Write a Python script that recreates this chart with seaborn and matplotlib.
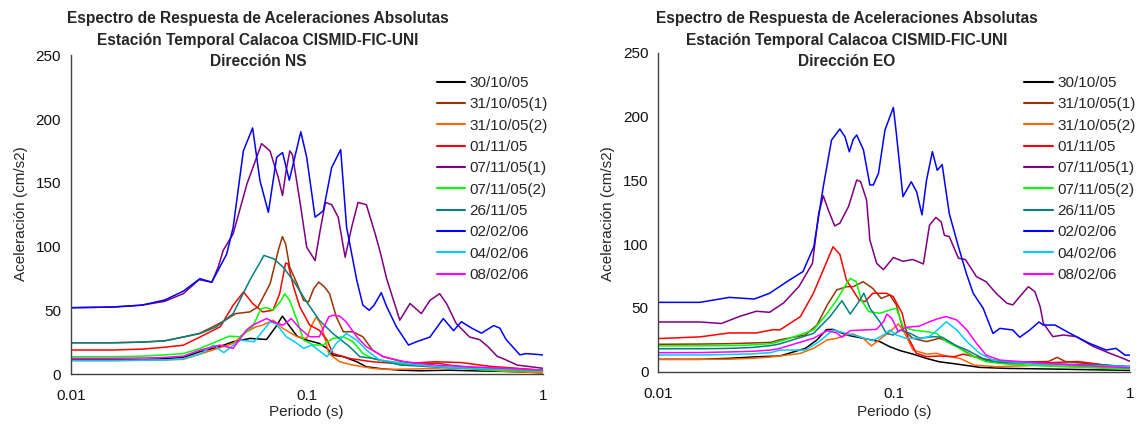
import numpy as np
import pandas as pd
import matplotlib
matplotlib.use('Agg')
import matplotlib.pyplot as plt
from matplotlib.lines import Line2D
from matplotlib.ticker import FixedLocator, FixedFormatter, NullFormatter, LogLocator
import seaborn as sns

# series labels and colours (same for both components)
labels = ['30/10/05', '31/10/05(1)', '31/10/05(2)', '01/11/05', '07/11/05(1)',
          '07/11/05(2)', '26/11/05', '02/02/06', '04/02/06', '08/02/06']
colors = ['#000000', '#993300', '#FF6600', '#FF0000', '#800080',
          '#00FF00', '#008080', '#0000FF', '#00CCFF', '#FF00FF']

# ---------------- NS component: period (s) / acceleration (cm/s2) ----------------
ns_3010_t = [0.01, 0.015, 0.02, 0.025, 0.03, 0.0353, 0.042, 0.0488, 0.0574, 0.0676, 0.074, 0.0789, 0.083,
             0.091, 0.1, 0.113, 0.122, 0.129, 0.143, 0.163, 0.179, 0.21, 0.25, 0.3, 0.4, 0.5, 0.7, 1.0]
ns_3010_a = [11, 11, 11.2, 12, 13, 17.5, 21, 25.3, 27.9, 27.1, 37, 45.4, 39.6,
             29.7, 26.6, 24, 20.1, 14.8, 13.6, 9.6, 5.7, 4, 3, 2.5, 3, 2.5, 2, 1]

ns_3110a_t = [0.01, 0.015, 0.02, 0.025, 0.03, 0.0353, 0.04, 0.045, 0.05, 0.0574, 0.0622, 0.07, 0.0758, 0.0789,
              0.0814, 0.0847, 0.091, 0.097, 0.1018, 0.107, 0.1125, 0.119, 0.125, 0.1335, 0.143, 0.157, 0.173,
              0.19, 0.211, 0.25, 0.3, 0.36, 0.4, 0.5, 0.7, 1.0]
ns_3110a_a = [24.5, 24.5, 25, 26, 29, 32, 37, 42, 47.4, 48.7, 52.6, 70.9, 97, 107.8,
              102, 83.9, 70.9, 57.8, 56.5, 66.9, 72.1, 68.2, 63, 44.8, 33.1, 33.1, 29.2,
              18.8, 13.6, 10, 8, 8.5, 7, 5, 4, 3]

ns_3110b_t = [0.01, 0.015, 0.02, 0.025, 0.03, 0.0353, 0.0488, 0.0555, 0.061, 0.065, 0.072, 0.0794, 0.091,
              0.1, 0.105, 0.11, 0.116, 0.124, 0.138, 0.157, 0.19, 0.218, 0.3, 0.4, 0.5, 0.7, 1.0]
ns_3110b_a = [10.5, 10.5, 10.8, 11, 11.5, 15.6, 24, 33, 37, 38.3, 42.2, 35.7, 29.2,
              27.9, 38.3, 44.8, 37, 16.1, 9.6, 7, 4.4, 3.6, 4, 5, 4, 2, 1]

ns_0111_t = [0.01, 0.015, 0.02, 0.025, 0.03, 0.0353, 0.043, 0.0488, 0.054, 0.059, 0.0651, 0.072, 0.0768,
             0.0814, 0.0833, 0.088, 0.0935, 0.103, 0.113, 0.122, 0.129, 0.152, 0.19, 0.25, 0.35, 0.45,
             0.6, 1.0]
ns_0111_a = [18.8, 18.8, 19.5, 21, 22.6, 29, 37, 54, 64.4, 55.3, 48.7, 50, 63,
             87, 86.5, 68.3, 52.6, 38.3, 34.4, 26.6, 16.1, 12.2, 9.6, 8, 9.6, 9,
             6, 3]

ns_0711a_t = [0.01, 0.015, 0.02, 0.025, 0.03, 0.035, 0.0396, 0.0422, 0.0443, 0.0488, 0.0558, 0.0644, 0.0699,
              0.0758, 0.079, 0.0817, 0.0848, 0.087, 0.0935, 0.1, 0.1085, 0.114, 0.12, 0.1276, 0.136,
              0.1455, 0.155, 0.165, 0.179, 0.195, 0.205, 0.218, 0.248, 0.274, 0.306, 0.333, 0.366,
              0.392, 0.43, 0.49, 0.54, 0.59, 0.64, 0.7, 0.78, 1.0]
ns_0711a_a = [52, 52.5, 54, 57, 63, 74, 72, 84, 97, 110, 149, 180.7, 175,
              154, 140, 159, 175, 172, 135.9, 99.5, 89, 112.5, 134.6, 132.8, 123,
              91.6, 115, 134.6, 132.8, 110, 95.5, 75, 42.2, 55.3, 47.4, 57.8, 63,
              55, 39.6, 29, 27, 21, 14, 11, 7, 4.5]

ns_0711b_t = [0.01, 0.015, 0.02, 0.025, 0.03, 0.0353, 0.043, 0.047, 0.052, 0.059, 0.064, 0.0676, 0.072,
              0.078, 0.0806, 0.0847, 0.091, 0.097, 0.107, 0.117, 0.129, 0.143, 0.157, 0.173, 0.19,
              0.25, 0.4, 0.6, 1.0]
ns_0711b_a = [13.6, 13.6, 14, 15, 16, 20.1, 26.6, 29.7, 29.2, 37, 51.3, 52, 50,
              57.8, 63, 57.8, 42.2, 26.6, 22.7, 22.7, 27.9, 29.2, 25.3, 16.1, 12.2,
              8, 5, 3, 2]

ns_2611_t = [0.01, 0.015, 0.02, 0.025, 0.03, 0.0353, 0.0415, 0.0488, 0.0574, 0.0659, 0.0724, 0.0794, 0.0876,
             0.1, 0.113, 0.129, 0.152, 0.168, 0.19, 0.25, 0.4, 0.6, 1.0]
ns_2611_a = [24.5, 24.5, 25, 26, 29, 31.7, 37, 47.4, 73.5, 93, 90.4, 83.9, 73.5,
             56.5, 42.2, 31.8, 21.4, 13.6, 12.3, 7, 5, 4, 3]

ns_0202_t = [0.01, 0.015, 0.02, 0.025, 0.03, 0.0353, 0.0396, 0.0458, 0.0488, 0.0539, 0.059, 0.0634, 0.0688,
             0.0746, 0.079, 0.0844, 0.0944, 0.1, 0.1085, 0.1176, 0.1276, 0.1393, 0.1476, 0.163, 0.173,
             0.184, 0.193, 0.207, 0.218, 0.24, 0.27, 0.292, 0.333, 0.379, 0.419, 0.452, 0.5, 0.55,
             0.62, 0.658, 0.7, 0.8, 0.85, 1.0]
ns_0202_a = [52, 52.5, 54, 58, 65, 74.8, 72, 94, 115, 175, 193, 151.6, 126.8,
             170, 173.7, 152, 190, 170, 123, 128, 162, 176, 115, 73.5, 54,
             50, 54, 63.8, 53, 37, 22.7, 25.3, 29, 43.5, 34, 41, 36, 32,
             38, 36, 27, 15, 16, 15]

ns_0402_t = [0.01, 0.015, 0.02, 0.025, 0.03, 0.0353, 0.0403, 0.0445, 0.052, 0.0598, 0.07, 0.074, 0.082,
             0.091, 0.097, 0.105, 0.122, 0.1335, 0.147, 0.163, 0.179, 0.204, 0.3, 0.4, 0.6, 1.0]
ns_0402_a = [10.5, 10.5, 10.8, 11, 12, 15.6, 22.7, 16.7, 26.6, 25.3, 40.9, 39.6, 29.2,
             24, 20.1, 22.7, 13.6, 24, 31.8, 26.6, 18.8, 10.9, 7, 5, 4, 3]

ns_0802_t = [0.01, 0.015, 0.02, 0.025, 0.03, 0.0353, 0.043, 0.0488, 0.0555, 0.059, 0.0676, 0.072, 0.0794,
             0.086, 0.0935, 0.103, 0.113, 0.124, 0.129, 0.138, 0.147, 0.163, 0.179, 0.211, 0.26, 0.35,
             0.45, 0.6, 1.0]
ns_0802_a = [12.3, 12.3, 12.5, 13, 14, 18.8, 22.7, 20.1, 34.4, 38.3, 43.5, 40.9, 38.3,
             43.5, 35.7, 29.2, 29.2, 44.8, 46.1, 45.4, 40.9, 29.2, 21.4, 13.6, 9.6, 7,
             6, 5, 3]

# ---------------- EO component ----------------
eo_3010_t = [0.01, 0.015, 0.02, 0.026, 0.0327, 0.042, 0.047, 0.0516, 0.055, 0.0627, 0.0738, 0.0868, 0.0957,
             0.106, 0.12, 0.137, 0.155, 0.184, 0.23, 0.3, 0.5, 1.0]
eo_3010_a = [9.7, 9.7, 10.5, 11.7, 12.3, 18.3, 24.9, 33, 33.2, 28.8, 26.2, 23.6, 19.6,
             16.5, 13.8, 10.4, 7.8, 6, 3.4, 2.6, 2, 1]

eo_3110a_t = [0.01, 0.015, 0.02, 0.025, 0.03, 0.0327, 0.042, 0.047, 0.052, 0.057, 0.0627, 0.067, 0.0738,
              0.081, 0.088, 0.0957, 0.102, 0.109, 0.12, 0.137, 0.155, 0.171, 0.19, 0.218, 0.27, 0.34,
              0.39, 0.45, 0.49, 0.53, 0.6, 0.8, 1.0]
eo_3110a_a = [21.5, 21.7, 22, 22.5, 23, 25, 28.8, 36.6, 52.4, 64.1, 66.7, 66.7, 70.6,
              65.4, 57.5, 60.2, 52.4, 32.7, 26.2, 23.6, 26.2, 23.6, 18.3, 11.8, 7.1, 7.8,
              7.8, 8, 11.3, 8, 7, 5, 3]

eo_3110b_t = [0.01, 0.015, 0.02, 0.025, 0.03, 0.0327, 0.04, 0.0454, 0.052, 0.057, 0.0627, 0.067, 0.0738,
              0.08, 0.0868, 0.0957, 0.104, 0.109, 0.12, 0.137, 0.151, 0.166, 0.19, 0.218, 0.27, 0.4,
              0.6, 1.0]
eo_3110b_a = [9.7, 9.7, 9.8, 10.5, 11.5, 12.3, 14.4, 18.3, 24.9, 26.2, 28.8, 29.6, 26.2,
              20.2, 25.4, 31.4, 37.4, 32.7, 17, 13.8, 14.4, 12.3, 10.4, 5.2, 3.9, 5,
              4, 2]

eo_0111_t = [0.01, 0.015, 0.02, 0.026, 0.0307, 0.0327, 0.04, 0.0454, 0.05, 0.055, 0.0588, 0.0627, 0.071,
             0.0752, 0.081, 0.0926, 0.099, 0.108, 0.114, 0.124, 0.137, 0.155, 0.18, 0.196, 0.218, 0.245,
             0.3, 0.45, 0.6, 0.8, 1.0]
eo_0111_a = [26, 27.3, 30.4, 30.4, 33, 32.7, 43.2, 61.5, 79.8, 98, 92, 71.9, 56.2,
             55, 61.5, 61.5, 58.9, 45.8, 27.5, 14.4, 11.8, 12.3, 11.8, 13.8, 11.8, 9.7,
             8, 7, 8, 5, 4]

eo_0711a_t = [0.01, 0.015, 0.0185, 0.0222, 0.026, 0.0296, 0.034, 0.0395, 0.045, 0.0478, 0.05, 0.0525, 0.0559,
              0.0588, 0.064, 0.0693, 0.072, 0.0763, 0.0788, 0.0842, 0.0899, 0.0991, 0.1088, 0.12, 0.1328,
              0.141, 0.15, 0.158, 0.163, 0.171, 0.187, 0.2, 0.21, 0.223, 0.245, 0.27, 0.3, 0.318, 0.34,
              0.37, 0.394, 0.415, 0.428, 0.47, 0.52, 0.59, 0.7, 0.82, 0.93, 1.0]
eo_0711a_a = [39, 39, 37.8, 43.5, 47.4, 46.6, 54, 67, 85, 124, 138, 127, 114.4,
              116.5, 129.6, 150.4, 149, 134.7, 103.3, 85, 80, 89.6, 86.6, 88, 84.5,
              115, 121, 117.5, 107, 106, 89, 88, 82, 74.5, 70.6, 61.5, 53.7, 52.4, 58.9,
              66.7, 62.8, 51, 38, 27.5, 28.8, 27.5, 19.6, 14.4, 10.5, 8]

eo_0711b_t = [0.01, 0.015, 0.02, 0.025, 0.03, 0.0327, 0.0454, 0.052, 0.057, 0.0616, 0.065, 0.069, 0.0725,
              0.078, 0.0868, 0.0957, 0.102, 0.109, 0.12, 0.137, 0.151, 0.166, 0.184, 0.21, 0.245, 0.3,
              0.5, 1.0]
eo_0711b_a = [20.2, 20.3, 20.5, 21, 22, 23.6, 32.7, 45.8, 56.2, 66.7, 73.2, 70.6, 56.2,
              47.1, 45.8, 48.4, 49.7, 35.3, 32.7, 31.4, 30, 23.6, 19.6, 13, 7.8, 6,
              4, 2]

eo_2611_t = [0.01, 0.015, 0.02, 0.025, 0.03, 0.0327, 0.0454, 0.0534, 0.06, 0.065, 0.07, 0.0743, 0.0789,
             0.0868, 0.0926, 0.099, 0.106, 0.117, 0.128, 0.147, 0.16, 0.18, 0.203, 0.245, 0.3, 0.5,
             0.8, 1.0]
eo_2611_a = [18, 18, 18.3, 19, 20.5, 21.8, 30, 43.2, 55.7, 45.2, 53.6, 61.5, 49.7,
             39.2, 30, 28.8, 32.7, 30, 26.2, 27.5, 27, 21, 17, 9.1, 7, 6,
             5, 4]

eo_0202_t = [0.01, 0.015, 0.02, 0.0255, 0.0296, 0.036, 0.041, 0.0456, 0.05, 0.0542, 0.0588, 0.0618, 0.0645,
             0.067, 0.0693, 0.074, 0.0788, 0.0815, 0.0857, 0.0913, 0.0991, 0.102, 0.1088, 0.118, 0.1244,
             0.131, 0.137, 0.145, 0.152, 0.1595, 0.171, 0.187, 0.202, 0.216, 0.238, 0.262, 0.28, 0.318,
             0.34, 0.375, 0.41, 0.428, 0.48, 0.556, 0.67, 0.79, 0.87, 0.95, 1.0]
eo_0202_a = [54.4, 54.4, 58.3, 57, 61.5, 72, 78.5, 98, 145, 181.7, 190.4, 184.3, 172.5,
             182.3, 185.7, 174, 146.5, 146.5, 155.6, 189.6, 207.3, 187, 137.3, 149, 141,
             123, 150.4, 172.6, 158, 162.5, 124, 98, 77, 61.5, 49.7, 30, 34, 32.7,
             27, 32.7, 39, 36.6, 36.6, 30, 22.3, 17, 18.3, 13, 13]

eo_0402_t = [0.01, 0.015, 0.02, 0.025, 0.03, 0.0327, 0.042, 0.048, 0.055, 0.0627, 0.071, 0.081, 0.09,
             0.0957, 0.102, 0.112, 0.128, 0.141, 0.155, 0.166, 0.184, 0.203, 0.23, 0.262, 0.4, 0.6, 1.0]
eo_0402_a = [13.1, 13.1, 13.5, 14, 15, 17, 17, 23.6, 32.7, 30, 27.5, 24.3, 28.8,
             32.7, 28.8, 26.2, 26.2, 27.5, 34, 39.2, 32.7, 23.6, 14.4, 9.1, 6, 5, 4]

eo_0802_t = [0.01, 0.015, 0.02, 0.025, 0.03, 0.0327, 0.0454, 0.052, 0.057, 0.06, 0.065, 0.0738, 0.084,
             0.09, 0.093, 0.0975, 0.104, 0.112, 0.128, 0.141, 0.155, 0.166, 0.184, 0.203, 0.223, 0.245,
             0.28, 0.4, 0.6, 1.0]
eo_0802_a = [14.9, 15, 15.5, 16, 17, 18.3, 26.2, 32.2, 30.5, 27, 32.2, 32.7, 33.2,
             39.2, 45.2, 41.9, 31.4, 34.8, 35.8, 39.2, 41.9, 43.2, 40.6, 32.7, 22.2, 13,
             9.1, 7, 5, 3]

ns_series = [(ns_3010_t, ns_3010_a), (ns_3110a_t, ns_3110a_a), (ns_3110b_t, ns_3110b_a),
             (ns_0111_t, ns_0111_a), (ns_0711a_t, ns_0711a_a), (ns_0711b_t, ns_0711b_a),
             (ns_2611_t, ns_2611_a), (ns_0202_t, ns_0202_a), (ns_0402_t, ns_0402_a),
             (ns_0802_t, ns_0802_a)]
eo_series = [(eo_3010_t, eo_3010_a), (eo_3110a_t, eo_3110a_a), (eo_3110b_t, eo_3110b_a),
             (eo_0111_t, eo_0111_a), (eo_0711a_t, eo_0711a_a), (eo_0711b_t, eo_0711b_a),
             (eo_2611_t, eo_2611_a), (eo_0202_t, eo_0202_a), (eo_0402_t, eo_0402_a),
             (eo_0802_t, eo_0802_a)]


def to_frame(series):
    parts = []
    for lab, (t, a) in zip(labels, series):
        parts.append(pd.DataFrame({'periodo': t, 'acel': a, 'sismo': lab}))
    return pd.concat(parts, ignore_index=True)


sns.set_style('white')
plt.rcParams['font.family'] = ['Liberation Sans', 'DejaVu Sans']

W, H = 1141, 425
fig = plt.figure(figsize=(W / 100, H / 100), dpi=100)

panels = [
    dict(series=ns_series, x0=70.7, y0=374.0, comp='Dirección NS', tx=258),
    dict(series=eo_series, x0=658.3, y0=371.7, comp='Dirección EO', tx=847),
]
ax_w, ax_h = 472.0, 318.7

for p in panels:
    ax = fig.add_axes([p['x0'] / W, 1 - p['y0'] / H, ax_w / W, ax_h / H])
    df = to_frame(p['series'])
    sns.lineplot(data=df, x='periodo', y='acel', hue='sismo', hue_order=labels,
                 palette=colors, estimator=None, linewidth=1.1, legend=False, ax=ax,
                 solid_joinstyle='round')
    ax.set_xscale('log')
    ax.set_xlim(0.01, 1)
    ax.set_ylim(0, 250)
    ax.xaxis.set_major_locator(FixedLocator([0.01, 0.1, 1]))
    ax.xaxis.set_major_formatter(FixedFormatter(['0.01', '0.1', '1']))
    ax.xaxis.set_minor_locator(LogLocator(base=10, subs=np.arange(2, 10)))
    ax.xaxis.set_minor_formatter(NullFormatter())
    ax.set_yticks([0, 50, 100, 150, 200, 250])
    ax.set_xlabel('')
    ax.set_ylabel('')
    sns.despine(ax=ax)
    for s in ['left', 'bottom']:
        ax.spines[s].set_color('#404040')
        ax.spines[s].set_linewidth(1.0)
    ax.tick_params(axis='both', which='major', direction='out', length=3, width=0.9,
                   color='#404040', labelsize=11, labelcolor='#111111')
    ax.tick_params(axis='x', which='major', pad=8)
    ax.tick_params(axis='y', which='major', pad=4)
    ax.tick_params(axis='x', which='minor', direction='out', length=2.5, width=0.9, color='#404040')
    ax.set_facecolor('white')

    handles = [Line2D([], [], color=c, lw=1.5) for c in colors]
    lx = p['x0'] + 366
    ax.legend(handles, labels, loc='upper left', bbox_to_anchor=(lx / W, 1 - 76 / H),
              bbox_transform=fig.transFigure, frameon=False, fontsize=11,
              handlelength=1.85, handletextpad=0.3, labelspacing=0.48,
              borderpad=0, borderaxespad=0)

    title_lines = ['Espectro de Respuesta de Aceleraciones Absolutas',
                   'Estación Temporal Calacoa CISMID-FIC-UNI', p['comp']]
    for i, line in enumerate(title_lines):
        fig.text(p['tx'] / W, 1 - (18.3 + 21.7 * i) / H, line, ha='center', va='center',
                 fontsize=11.2, fontweight='bold')
    fig.text((p['x0'] - 50) / W, 1 - 214 / H, 'Aceleración (cm/s2)', rotation=90,
             ha='center', va='center', fontsize=11)
    fig.text((p['x0'] + ax_w / 2) / W, 1 - 412 / H, 'Periodo (s)', ha='center',
             va='center', fontsize=11)

fig.savefig('out.png', dpi=100, facecolor='white')
